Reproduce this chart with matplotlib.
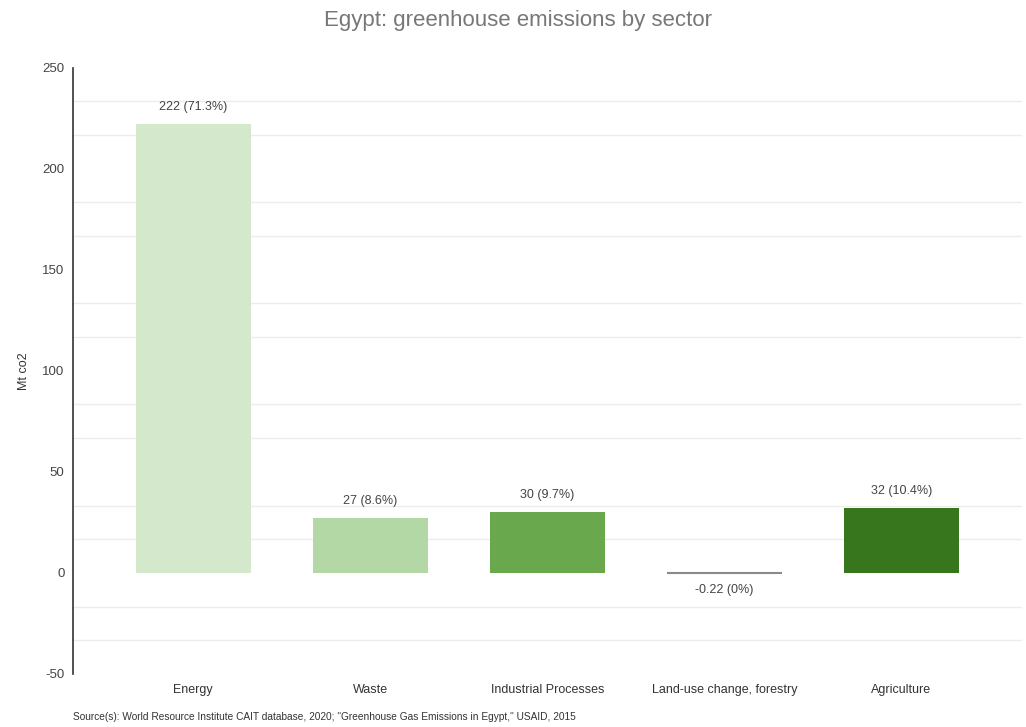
import numpy as np
import matplotlib.pyplot as plt

plt.rcParams['font.family'] = ['Liberation Sans', 'DejaVu Sans']
plt.rcParams['axes.unicode_minus'] = False

sectors = ["Energy", "Waste", "Industrial Processes", "Land-use change, forestry", "Agriculture"]
emissions = [222, 27, 30, -0.22, 32]
labels = ["222 (71.3%)", "27 (8.6%)", "30 (9.7%)", "-0.22 (0%)", "32 (10.4%)"]
colors = ["#d4e8cc", "#b4d7a6", "#69a84c", "#8a8a8a", "#38761d"]

fig = plt.figure(figsize=(10.26, 7.27), dpi=100)
ax = fig.add_axes([0.071, 0.073, 0.925, 0.834])

x = np.arange(len(sectors))
bars = ax.bar(x, emissions, width=0.65, color=colors, zorder=2)
# the near-zero bar shows as a thin grey line
bars[3].set_edgecolor("#8a8a8a")
bars[3].set_linewidth(1.5)

for xi, v, lab in zip(x, emissions, labels):
    if v >= 0:
        ax.annotate(lab, (xi, v), xytext=(0, 8), textcoords="offset points",
                    ha="center", va="bottom", fontsize=9, color="#444444")
    else:
        ax.annotate(lab, (xi, v), xytext=(0, -8), textcoords="offset points",
                    ha="center", va="top", fontsize=9, color="#444444")

ax.set_xlim(-0.68, 4.68)
ax.set_ylim(-50, 250)
ax.set_yticks(np.arange(-50, 251, 50))
minor = [m for m in np.arange(-50, 250, 50 / 3) if abs(m / 50 - round(m / 50)) > 0.01]
ax.set_yticks(minor, minor=True)
ax.grid(axis="y", which="minor", color="#ececec", linewidth=1, zorder=0)
ax.tick_params(axis="y", which="both", length=0, labelsize=9.5, labelcolor="#444444", pad=6)
ax.set_xticks(x)
ax.set_xticklabels(sectors)
ax.tick_params(axis="x", length=0, labelsize=9, labelcolor="#333333", pad=7)

for s in ["top", "right", "bottom"]:
    ax.spines[s].set_visible(False)
ax.spines["left"].set_color("#333333")
ax.spines["left"].set_linewidth(1.2)

ax.set_ylabel("Mt co2", fontsize=9, color="#333333", labelpad=4)
ax.yaxis.set_label_coords(-0.045, 0.5)

fig.text(0.505, 0.972, "Egypt: greenhouse emissions by sector", ha="center", va="center",
         fontsize=16, color="#777777")
fig.text(0.071, 0.014, "Source(s): World Resource Institute CAIT database, 2020; \"Greenhouse Gas Emissions in Egypt,\" USAID, 2015",
         ha="left", va="center", fontsize=7.3, color="#333333")

fig.savefig("out.png", dpi=100)
